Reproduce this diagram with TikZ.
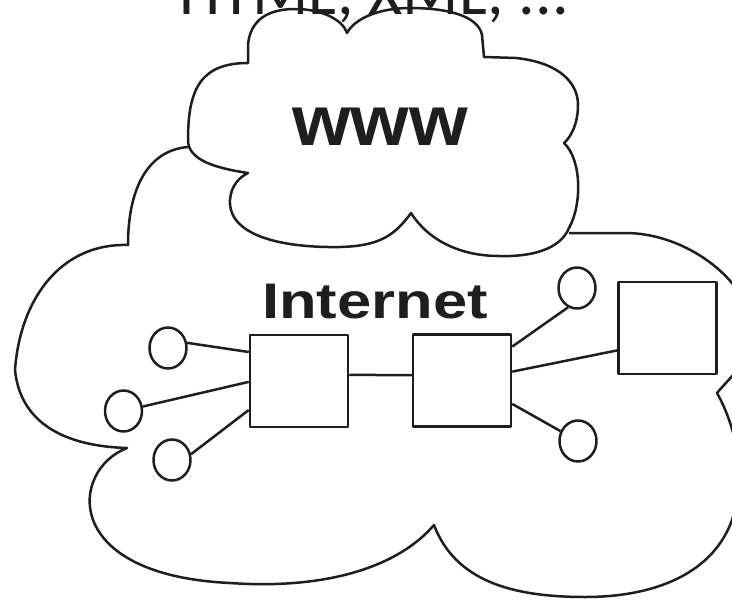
\documentclass[tikz,border=0pt]{standalone}
\usepackage{fontspec}
\usepackage{graphicx}
\usetikzlibrary{shapes.geometric}
\newfontfamily\labelfont{Liberation Sans}
\newfontfamily\topfont{Carlito}
\definecolor{ink}{HTML}{1E1E1E}

\begin{document}
\begin{tikzpicture}[x=1pt, y=-1pt, line width=2.5pt, color=ink, line join=round,
	router/.style={draw, rectangle, minimum width=98pt, minimum height=92pt, inner sep=0pt},
	host/.style={draw, ellipse, minimum width=37pt, minimum height=41pt, inner sep=0pt},
	link/.style={draw},
	cloudline/.style={draw}]
	\useasboundingbox (0,0) rectangle (732,600);
	\clip (0,0) rectangle (732,600);
	\fill [white] (0,0) rectangle (732,600);

	% outer cloud (Internet)
	\draw [cloudline] (188,147) .. controls (150,150) and (128,185) .. (128,245)
		.. controls (60,243) and (20,300) .. (15,370)
		.. controls (20,420) and (60,446) .. (127,448)
		.. controls (70,470) and (60,575) .. (230,583)
		.. controls (330,590) and (400,565) .. (434,525)
		.. controls (455,580) and (510,597) .. (585,597)
		.. controls (660,597) and (720,570) .. (735,510)
		.. controls (745,470) and (735,425) .. (717,393)
		.. controls (732,375) and (752,360) .. (752,330)
		.. controls (752,285) and (690,233) .. (625,233)
		-- (569,233);

	% inner cloud (WWW)
	\draw [cloudline] (248,63) -- (248,45) .. controls (250,20) and (268,9) .. (295,9)
		.. controls (322,9) and (343,20) .. (347,33)
		.. controls (355,18) and (380,8) .. (410,8)
		.. controls (445,8) and (478,15) .. (482,35) -- (484,57)
		-- (516,58) .. controls (555,62) and (578,80) .. (578,105)
		.. controls (578,125) and (570,138) .. (564,143)
		.. controls (582,160) and (582,205) .. (569,228)
		.. controls (560,250) and (530,257) .. (499,256)
		.. controls (460,256) and (428,240) .. (411,213)
		.. controls (395,235) and (380,246) .. (340,247)
		.. controls (280,248) and (228,235) .. (230,200)
		.. controls (231,185) and (240,177) .. (248,173)
		.. controls (215,168) and (188,160) .. (188,140)
		.. controls (188,90) and (200,63) .. (248,63) -- cycle;

	\node [anchor=base] (www) at (380,145) {\labelfont\bfseries\fontsize{71}{71}\selectfont\scalebox{1.06}[1]{www}};
	\node [anchor=base] (inet) at (375,318) {\labelfont\bfseries\fontsize{50}{50}\selectfont\scalebox{1.23}[1]{Internet}};

	\node [router] (r1) at (299,381) {};
	\node [router] (r2) at (462,380.5) {};
	\node [router] (r3) at (667.5,328) {};
	\node [host] (h1) at (168,348) {};
	\node [host] (h2) at (123.5,411) {};
	\node [host] (h3) at (172,460) {};
	\node [host] (h4) at (577,288) {};
	\node [host] (h5) at (578,441) {};

	\draw [link] (h1.15) -- (r1.150);
	\draw [link] (h2) -- (r1.181);
	\draw [link] (h3.17) -- (r1.210);
	\draw [link] (r1.7) -- (r2.174);
	\draw [link] (r2.34) -- (h4.245);
	\draw [link] (r2.10) -- (r3.204);
	\draw [link] (r2.335) -- (h5);

	\node [anchor=base] (langs) at (374,14) {\topfont\fontsize{66}{66}\selectfont HTML, XML, ...};
\end{tikzpicture}
\end{document}
